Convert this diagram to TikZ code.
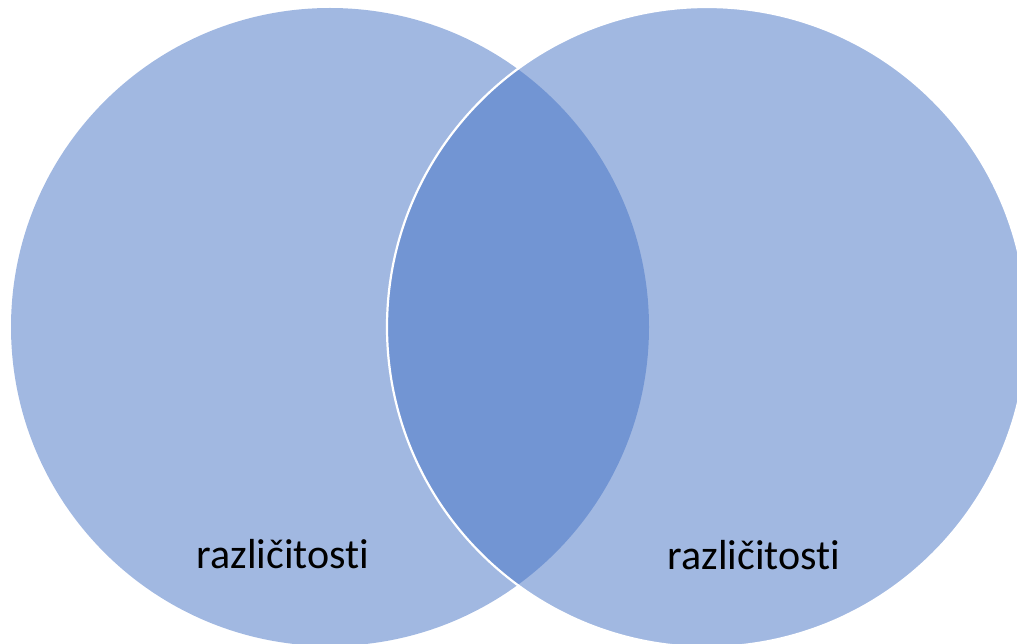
\documentclass[tikz,border=0pt]{standalone}
\usepackage{fontspec}
\setmainfont[Ligatures=NoCommon]{Carlito}
\definecolor{accent}{HTML}{4472C4}
\begin{document}
\begin{tikzpicture}[x=1pt,y=-1pt,
  setcircle/.style={fill=accent,fill opacity=0.5},
  lbl/.style={font=\fontsize{42}{50}\selectfont,text=black,anchor=base,inner sep=0pt}]
\useasboundingbox (0,0) rectangle (1017,644);
\fill[setcircle] (330,327) circle[radius=319];
\draw[setcircle,draw=white,line width=2.2pt,draw opacity=1] (707,327) circle[radius=320];
\node[lbl] (l) at (283,568) {različitosti};
\node[lbl] (r) at (754,569) {različitosti};
\end{tikzpicture}
\end{document}
